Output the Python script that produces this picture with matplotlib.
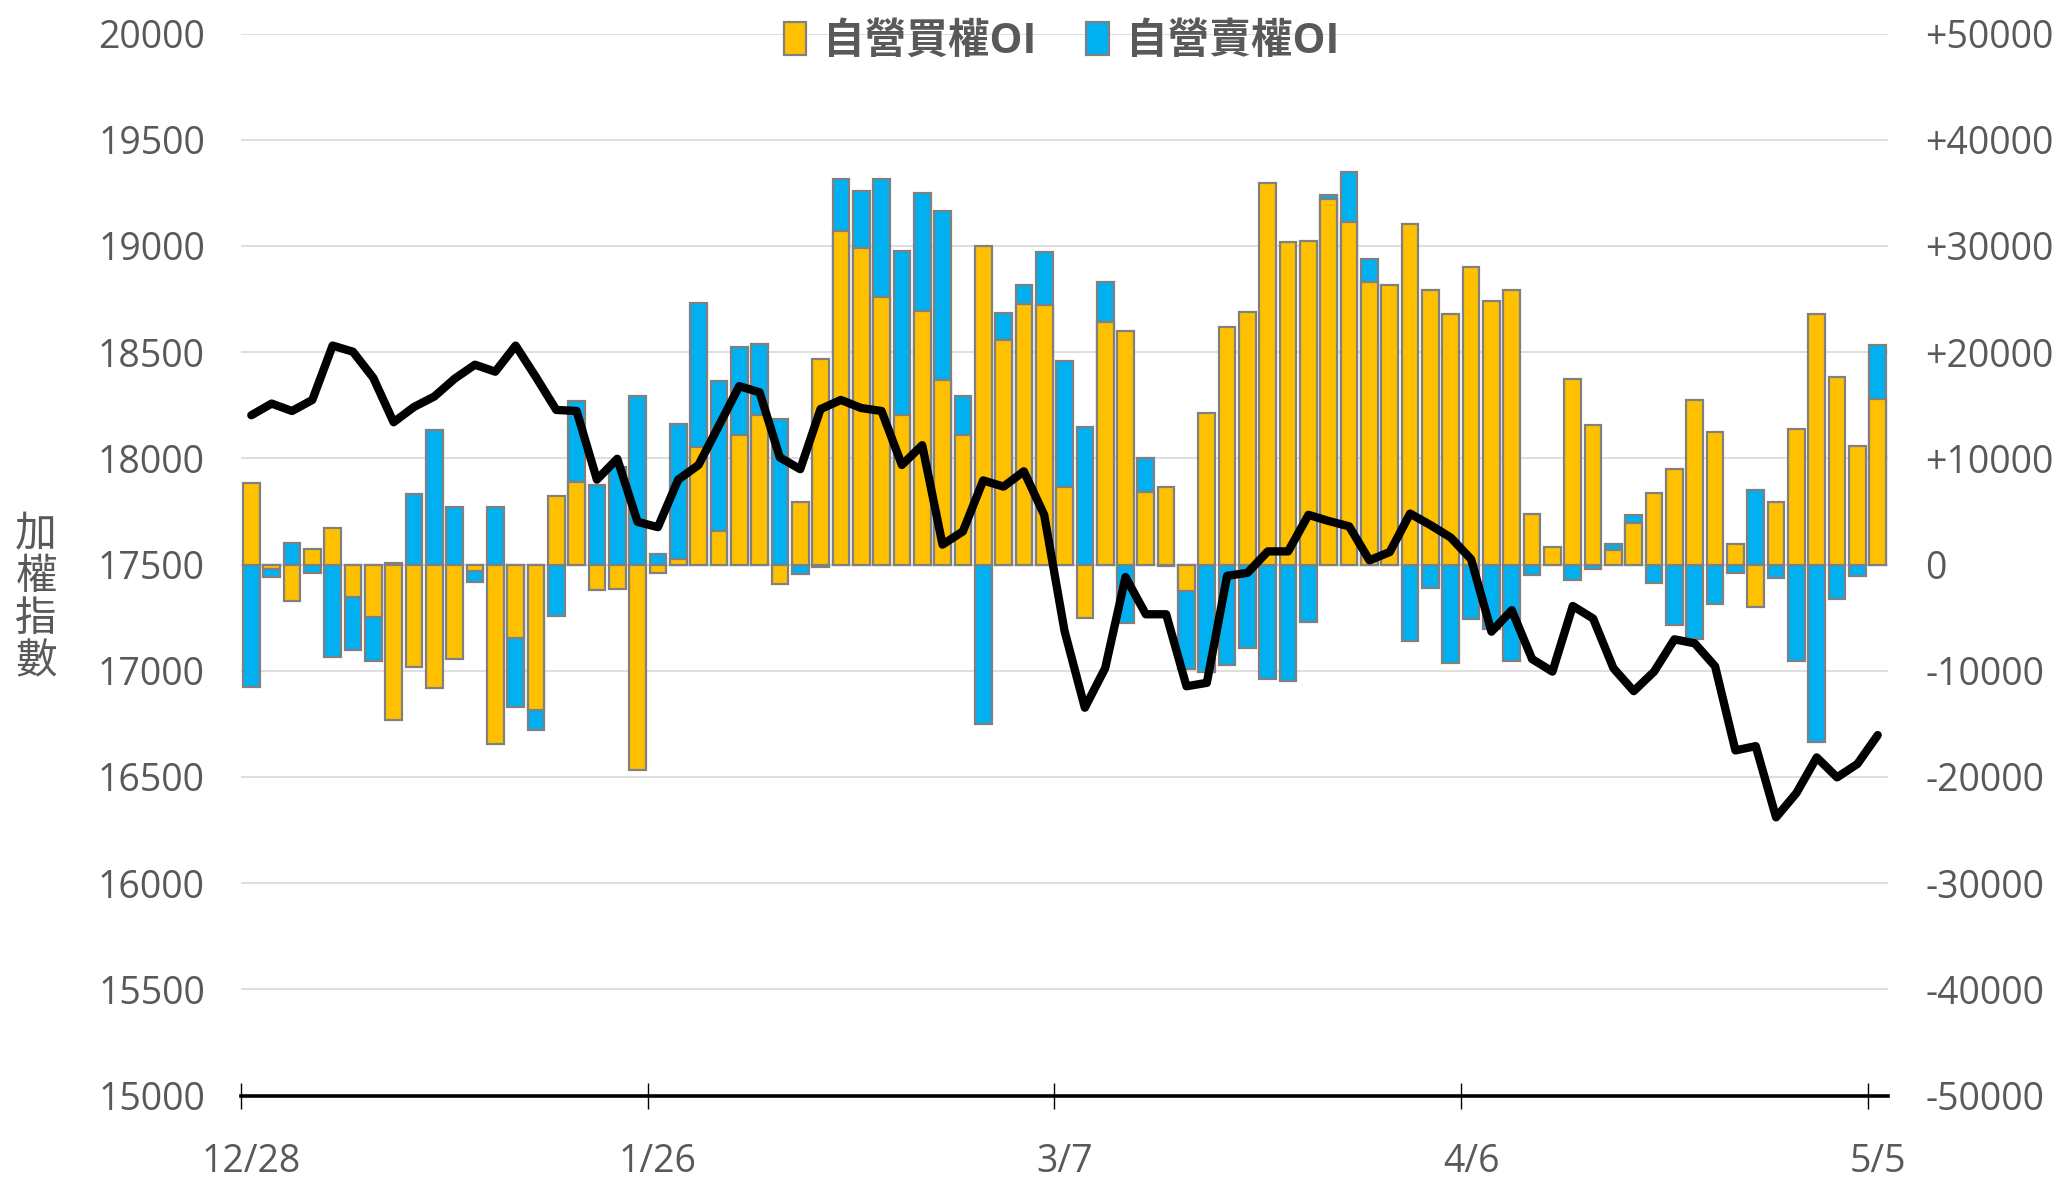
import matplotlib
matplotlib.use("Agg")
import matplotlib.pyplot as plt
import numpy as np
from matplotlib.patches import Patch

plt.rcParams['font.family'] = ['Open Sans', 'Noto Sans CJK TC', 'DejaVu Sans']

# ---- data ----
call_oi = [7700, -400, -3400, 1500, 3400, -3100, -4900, -14600, -9600, -11600,
           -8900, -600, -16900, -6900, -13700, 6500, 7800, -2400, -2300, -19300,
           -800, 500, 11100, 3200, 12200, 14100, -1800, 5900, 19400, 31400,
           29800, 25200, 14100, 23900, 17400, 12200, 30000, 21100, 24500, 24400,
           7300, -5000, 22800, 22000, 6800, 7300, -2500, 14300, 22400, 23800,
           35900, 30400, 30500, 34400, 32300, 26600, 26300, 32100, 25900, 23600,
           28000, 24800, 25900, 4800, 1700, 17500, 13100, 1400, 3900, 6700,
           9000, 15500, 12500, 1900, -4000, 5900, 12800, 23600, 17700, 11200,
           15600]
put_oi = [-11500, -1200, 2000, -800, -8700, -8000, -9100, 100, 6600, 12700,
          5400, -1600, 5400, -13400, -15600, -4800, 15400, 7500, 9200, 15900,
          1000, 13200, 24600, 17300, 20500, 20800, 13700, -900, -200, 36300,
          35200, 36300, 29500, 35000, 33300, 15900, -15000, 23700, 26300, 29400,
          19200, 13000, 26600, -5500, 10000, -100, -9800, -10100, -9500, -7900,
          -10800, -11000, -5400, 34800, 37000, 28800, 0, -7200, -2200, -9300,
          -5100, -6100, -9100, -1000, 0, -1500, -400, 1900, 4700, -1700,
          -5700, -7000, -3700, -800, 7000, -1300, -9100, -16700, -3200, -1100,
          20700]
taiex = [18203, 18258, 18223, 18275, 18531, 18502, 18379, 18170, 18242, 18291,
         18375, 18441, 18408, 18531, 18383, 18228, 18223, 17900, 17998, 17701,
         17676, 17900, 17969, 18154, 18340, 18311, 18004, 17949, 18232, 18275,
         18237, 18223, 17969, 18062, 17594, 17656, 17896, 17867, 17939, 17734,
         17188, 16826, 17012, 17441, 17266, 17266, 16927, 16943, 17447, 17461,
         17562, 17562, 17734, 17705, 17680, 17520, 17559, 17740, 17686, 17627,
         17525, 17184, 17285, 17055, 16996, 17305, 17246, 17012, 16904, 16996,
         17148, 17129, 17021, 16625, 16645, 16310, 16424, 16592, 16498, 16561,
         16697]
date_tick_pos = [0, 20, 40, 60, 80]
date_tick_labels = ['12/28', '1/26', '3/7', '4/6', '5/5']
left_ticks = [15000, 15500, 16000, 16500, 17000, 17500, 18000, 18500, 19000, 19500, 20000]
right_ticks = [-50000, -40000, -30000, -20000, -10000, 0, 10000, 20000, 30000, 40000, 50000]

YELLOW = '#FFC000'
BLUE = '#00B0F0'
EDGE = '#808080'
TXT = '#595959'

fig = plt.figure(figsize=(20.61, 11.78), dpi=100)
ax = fig.add_axes([0.117, 0.070, 0.799, 0.9015])
x = np.arange(len(call_oi))

ax.set_axisbelow(True)
ax.bar(x, put_oi, width=0.82, color=BLUE, edgecolor=EDGE, linewidth=1.6, zorder=2)
ax.bar(x, call_oi, width=0.82, color=YELLOW, edgecolor=EDGE, linewidth=1.6, zorder=3)
ax.set_ylim(-50000, 50000)
ax.set_xlim(-0.5, len(call_oi) - 0.5)
ax.grid(axis='y', color='#D9D9D9', linewidth=1.2)
for s in ['top', 'left', 'right']:
    ax.spines[s].set_visible(False)
ax.spines['bottom'].set_linewidth(2.6)
ax.spines['bottom'].set_color('black')
ax.spines['bottom'].set_zorder(5)

# x ticks: marks at category boundaries, labels at category centres
ax.set_xticks([p - 0.5 for p in date_tick_pos])
ax.set_xticklabels([])
ax.tick_params(axis='x', which='major', direction='inout', length=19, width=1.0, color='black')
ax.set_xticks(date_tick_pos, minor=True)
ax.set_xticklabels(date_tick_labels, minor=True)
ax.tick_params(axis='x', which='minor', length=0, pad=34, labelsize=27, labelcolor=TXT)

ax2 = ax.twinx()
ax2.plot(x, taiex, color='black', linewidth=6.0, solid_joinstyle='round', solid_capstyle='round', zorder=4)
ax2.set_ylim(15000, 20000)
ax2.set_yticks(left_ticks)
ax2.set_yticklabels([str(v) for v in left_ticks])
ax2.yaxis.tick_left()
ax2.tick_params(axis='y', length=0, pad=26, labelsize=27, labelcolor=TXT)
for s in ax2.spines.values():
    s.set_visible(False)

# right axis labels for the bar axis (set after twinx, which resets tick side)
ax.set_yticks(right_ticks)
ax.set_yticklabels([('+%d' % v if v > 0 else '%d' % v) for v in right_ticks])
ax.yaxis.tick_right()
ax.tick_params(axis='y', length=0, pad=27, labelsize=27, labelcolor=TXT)

fig.text(0.0175, 0.492, '加\n權\n指\n數', ha='center', va='center', fontsize=30,
         color=TXT, linespacing=1.05, family=['Noto Sans CJK TC'])

handles = [Patch(facecolor=YELLOW, edgecolor=EDGE, linewidth=1.6),
           Patch(facecolor=BLUE, edgecolor=EDGE, linewidth=1.6)]
leg = fig.legend(handles, ['自營買權OI', '自營賣權OI'], loc='center', bbox_to_anchor=(0.515, 0.964),
                 ncol=2, frameon=False, fontsize=30, handlelength=0.55, handleheight=0.85,
                 handletextpad=0.4, columnspacing=1.2)
for t in leg.get_texts():
    t.set_color(TXT)
    t.set_fontweight('bold')

fig.savefig('out.png', dpi=100)
